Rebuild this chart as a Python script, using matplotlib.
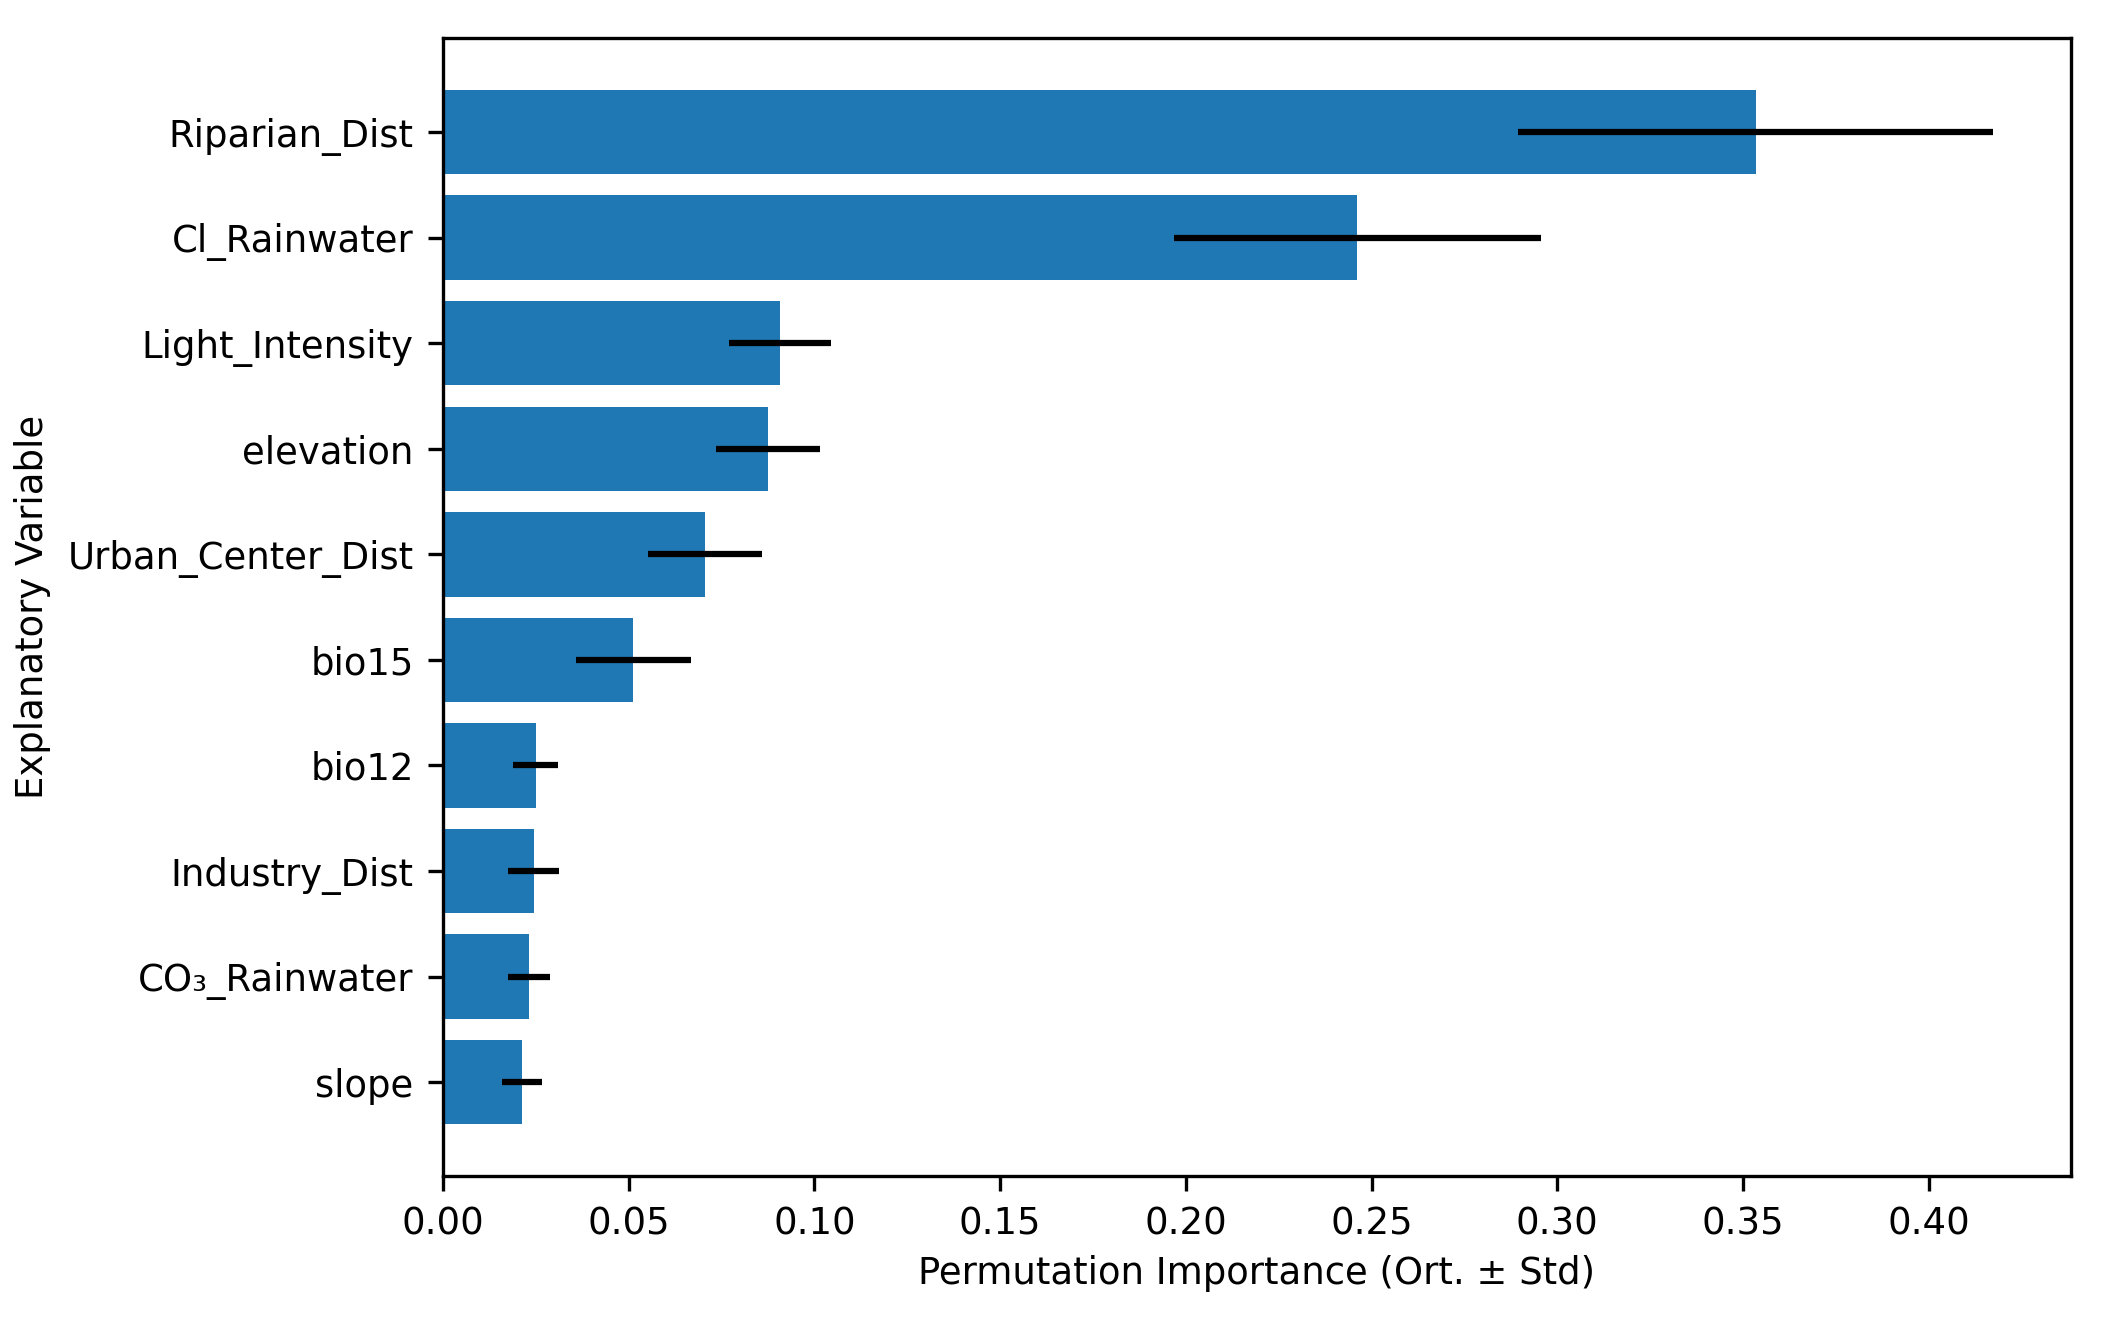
import matplotlib
matplotlib.use("Agg")
import matplotlib.pyplot as plt
import numpy as np

variables = ["Riparian_Dist", "Cl_Rainwater", "Light_Intensity", "elevation",
             "Urban_Center_Dist", "bio15", "bio12", "Industry_Dist",
             "CO\u2083_Rainwater", "slope"]
importance = [0.3534, 0.2462, 0.0908, 0.0876, 0.0706, 0.0513, 0.0250, 0.0244, 0.0232, 0.0214]
std = [0.0640, 0.0495, 0.0138, 0.0140, 0.0153, 0.0154, 0.0060, 0.0068, 0.0056, 0.0054]

plt.rcParams['font.family'] = ['DejaVu Sans']
plt.rcParams['font.size'] = 8.9
fig = plt.figure(figsize=(2104/300, 1317/300), dpi=300)
ax = fig.add_axes([0.2105, 0.107, 0.9843-0.2105, 0.971-0.107])

y = np.arange(len(variables))
ax.barh(y, importance, xerr=std, color='#1f77b4', height=0.8,
        error_kw=dict(ecolor='black', elinewidth=1.5, capsize=0))
ax.set_yticks(y)
ax.set_yticklabels(variables)
ax.invert_yaxis()
ax.set_xlabel("Permutation Importance (Ort. \u00b1 Std)", labelpad=3)
ax.set_ylabel("Explanatory Variable")
ax.set_xticks(np.arange(0, 0.41, 0.05))

fig.savefig("out.png", dpi=300)
